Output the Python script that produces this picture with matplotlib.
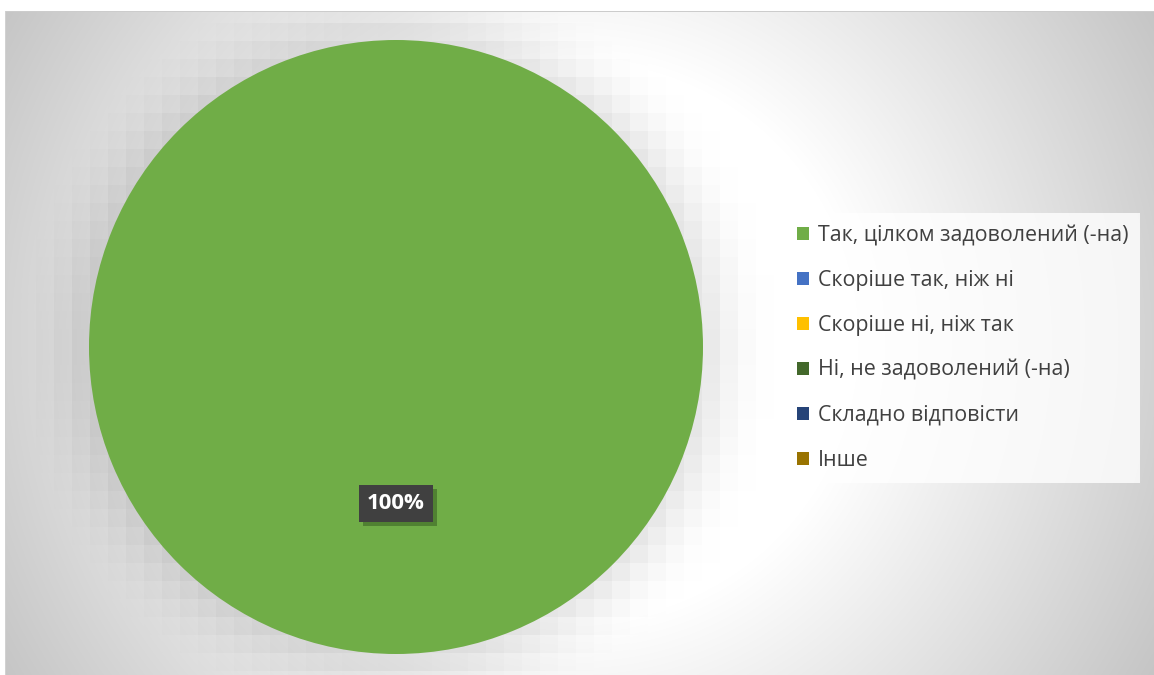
import numpy as np
import matplotlib
matplotlib.use("Agg")
import matplotlib.pyplot as plt
from matplotlib import patheffects as pe

# ---------------- data ----------------
categories = ['Так, цілком задоволений (-на)', 'Скоріше так, ніж ні',
              'Скоріше ні, ніж так', 'Ні, не задоволений (-на)',
              'Складно відповісти', 'Інше']
values = [100, 0, 0, 0, 0, 0]
colors = ['#70AD47', '#4472C4', '#FFC000', '#43682B', '#264478', '#997300']

plt.rcParams['font.family'] = ['Open Sans', 'DejaVu Sans']

W, H = 1154, 675
fig = plt.figure(figsize=(W / 100, H / 100), dpi=100)

# ---------------- layout ----------------
pie_cx, pie_cy, pie_r = 396, 347, 307      # pixels (y from top)
chart_x0, chart_y0 = 5, 11

# ---------------- background (gradient + pie shadow) ----------------
yy, xx = np.mgrid[0:H, 0:W].astype(float)
gcx, gcy = 578, 341
d = np.hypot(xx - gcx, yy - gcy)
gray = 255 - 0.15 * np.clip(d - 280, 0, None)
gray = np.clip(gray, 192, 255)

# blocky soft shadow around the pie
blk = 18
bx = (np.floor((xx - pie_cx) / blk) + 0.5) * blk + pie_cx
by = (np.floor((yy - pie_cy) / blk) + 0.5) * blk + pie_cy
de = np.hypot(bx - pie_cx, by - pie_cy) - pie_r
f = np.clip(1 - np.clip(de, 0, None) / 70.0, 0, 1) ** 1.8
gray = gray * (1 - 0.10 * f)

img = np.repeat(gray[:, :, None], 3, axis=2) / 255.0
img[:chart_y0, :, :] = 1.0
img[:, :chart_x0, :] = 1.0
img[chart_y0, chart_x0:, :] = 0.80
img[chart_y0:, chart_x0, :] = 0.82

ax_bg = fig.add_axes([0, 0, 1, 1])
ax_bg.imshow(img, extent=(0, W, H, 0), interpolation='nearest', aspect='auto')
ax_bg.set_xlim(0, W)
ax_bg.set_ylim(H, 0)
ax_bg.axis('off')

# ---------------- pie ----------------
ax = fig.add_axes([(pie_cx - pie_r) / W, 1 - (pie_cy + pie_r) / H,
                   2 * pie_r / W, 2 * pie_r / H])


def fmt(p):
    return f'{p:.0f}%' if p > 0 else ''


wedges, texts, autotexts = ax.pie(
    values, colors=colors, startangle=90, counterclock=False,
    autopct=fmt, pctdistance=0.51,
    wedgeprops=dict(linewidth=0),
    textprops=dict(color='white', fontsize=16, fontweight='bold'))
ax.set_xlim(-1, 1)
ax.set_ylim(-1, 1)
ax.set_aspect('equal')

for t in autotexts:
    if t.get_text():
        t.set_bbox(dict(boxstyle='square,pad=0.35', facecolor='#404040',
                        edgecolor='none'))
        t.get_bbox_patch().set_path_effects(
            [pe.SimplePatchShadow(offset=(3, -3), shadow_rgbFace='#2a4d1a',
                                  alpha=0.45), pe.Normal()])

# ---------------- legend ----------------
leg = fig.legend(wedges, categories, loc='center left',
                 bbox_to_anchor=(785 / W, 1 - 348 / H),
                 fontsize=15.4, frameon=True, fancybox=False,
                 handlelength=0.55, handleheight=0.55, handletextpad=0.42,
                 labelspacing=1.12, borderpad=0.55, borderaxespad=0)
leg.get_frame().set_facecolor((1, 1, 1, 0.22))
leg.get_frame().set_edgecolor('none')
for txt in leg.get_texts():
    txt.set_color('#404040')

fig.savefig('out.png', dpi=100)
